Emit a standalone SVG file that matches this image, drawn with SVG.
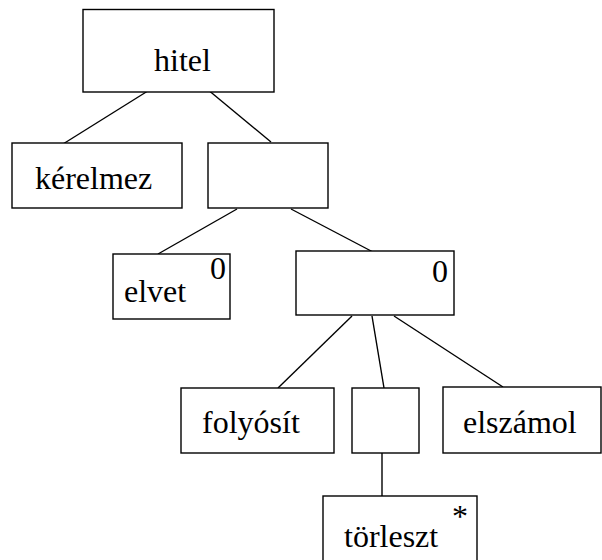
<svg xmlns="http://www.w3.org/2000/svg" width="602" height="560" viewBox="0 0 602 560">
<style>
rect{fill:#fff;stroke:#000;stroke-width:1.4}
line{stroke:#000;stroke-width:1.4}
text{font-family:'Liberation Serif','Times New Roman',serif;font-size:32px;fill:#000}
</style>
<rect x="0" y="0" width="602" height="560" style="stroke:none"/>
<g id="connectors">
<line x1="151" y1="89" x2="63" y2="144"/>
<line x1="207" y1="89" x2="271" y2="142"/>
<line x1="237" y1="209" x2="158" y2="254"/>
<line x1="291" y1="209" x2="373" y2="252"/>
<line x1="352" y1="316" x2="278" y2="388"/>
<line x1="372" y1="316" x2="384" y2="388"/>
<line x1="394" y1="316" x2="503" y2="387"/>
<line x1="382" y1="452" x2="382" y2="497"/>
</g>
<g id="hitel"><rect x="83" y="9.5" width="191" height="82.5"/><text x="154" y="71">hitel</text></g>
<g id="kerelmez"><rect x="12" y="143" width="170" height="65"/><text x="35" y="189">kérelmez</text></g>
<g id="blank1"><rect x="208" y="143" width="120" height="65"/></g>
<g id="elvet"><rect x="113" y="254" width="117" height="65"/><text x="124" y="302">elvet</text><text x="210" y="279">0</text></g>
<g id="blank2"><rect x="296" y="251" width="158" height="64"/><text x="432" y="282">0</text></g>
<g id="folyosit"><rect x="181" y="388" width="153" height="65"/><text x="202" y="433">folyósít</text></g>
<g id="blank3"><rect x="352" y="388" width="67" height="65"/></g>
<g id="elszamol"><rect x="443" y="387" width="158" height="66"/><text x="463" y="433">elszámol</text></g>
<g id="torleszt"><rect x="323" y="496" width="154" height="70"/><text x="344" y="547">törleszt</text><text x="452" y="527">*</text></g>
</svg>
